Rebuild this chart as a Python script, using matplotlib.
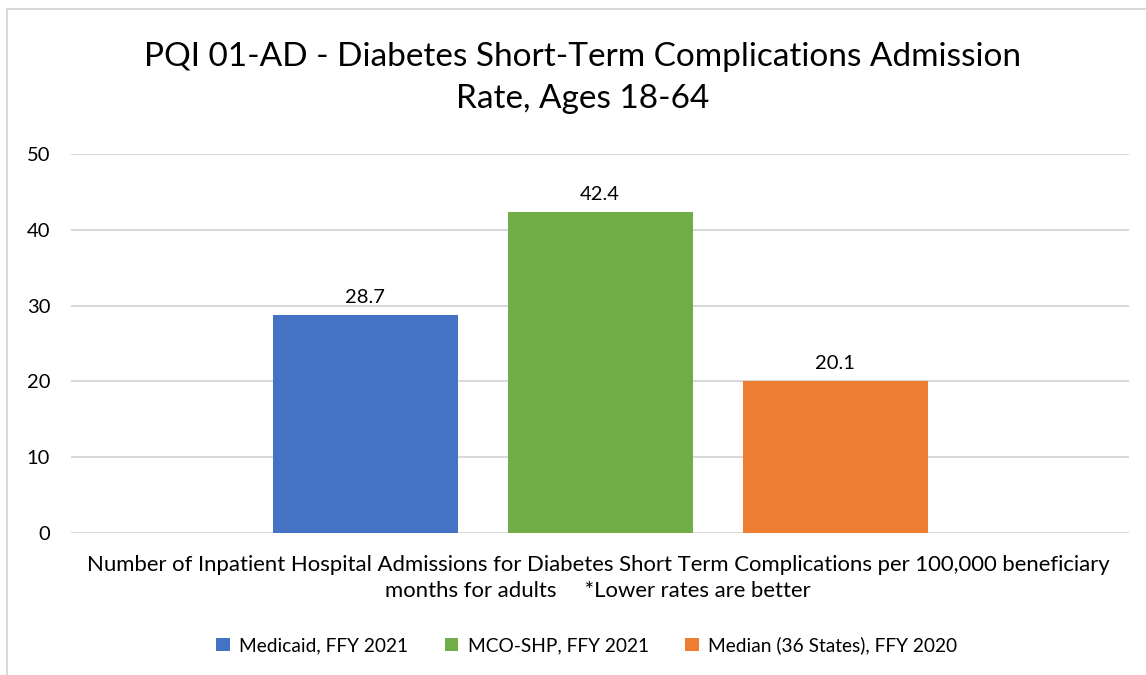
import numpy as np
import matplotlib.pyplot as plt
from matplotlib.patches import Rectangle

plt.rcParams['font.family'] = ['Lato', 'DejaVu Sans']

series = ['Medicaid, FFY 2021', 'MCO-SHP, FFY 2021', 'Median (36 States), FFY 2020']
values = [28.7, 42.4, 20.1]
colors = ['#4472C4', '#70AD47', '#ED7D31']
yticks = [0, 10, 20, 30, 40, 50]
title = 'PQI 01-AD - Diabetes Short-Term Complications Admission\nRate, Ages 18-64'
xlabel = ('Number of Inpatient Hospital Admissions for Diabetes Short Term Complications per 100,000 beneficiary\n'
          'months for adults     *Lower rates are better')

W, H = 1146, 675
fig = plt.figure(figsize=(W / 100, H / 100), dpi=100)
ax = fig.add_axes([71 / W, 1 - 533 / H, (1129 - 71) / W, (533 - 154) / H])

# outer chart border
fig.patches.append(Rectangle((7 / W, -0.1), 1.2, 1 - 9 / H + 0.1, transform=fig.transFigure,
                             fill=False, edgecolor='#d9d9d9', linewidth=1.5))

bar_w = 1.0
gap = 50 / 185
offsets = (np.arange(len(values)) - 1) * (bar_w + gap)
bars = ax.bar(offsets, values, width=bar_w, color=colors, label=series, zorder=3)
for b, v in zip(bars, values):
    ax.text(b.get_x() + b.get_width() / 2, v + 1.2, f'{v:.1f}', ha='center', va='bottom',
            fontsize=14.5, color='#000000')

half = (1129 - 71) / 185 / 2
ax.set_xlim(-half, half)
ax.set_ylim(0, 50)
ax.set_yticks(yticks)
ax.set_xticks([])
ax.tick_params(axis='y', length=0, pad=15, labelsize=14.5, labelcolor='#000000')
ax.grid(axis='y', color='#d9d9d9', linewidth=1.5, zorder=0)
for s in ax.spines.values():
    s.set_visible(False)

fig.text(583 / W, 1 - 78 / H, title, ha='center', va='center', fontsize=24,
         linespacing=1.5, color='#000000')
fig.text(598 / W, 1 - 578 / H, xlabel, ha='center', va='center', fontsize=15.9,
         linespacing=1.35, color='#000000')

fig.legend(handles=bars, labels=series, loc='center', bbox_to_anchor=(587 / W, 1 - 645 / H),
           ncol=3, frameon=False, fontsize=13.8, handlelength=0.7, handleheight=0.7,
           handletextpad=0.5, columnspacing=1.9)

fig.savefig('out.png', dpi=100)
